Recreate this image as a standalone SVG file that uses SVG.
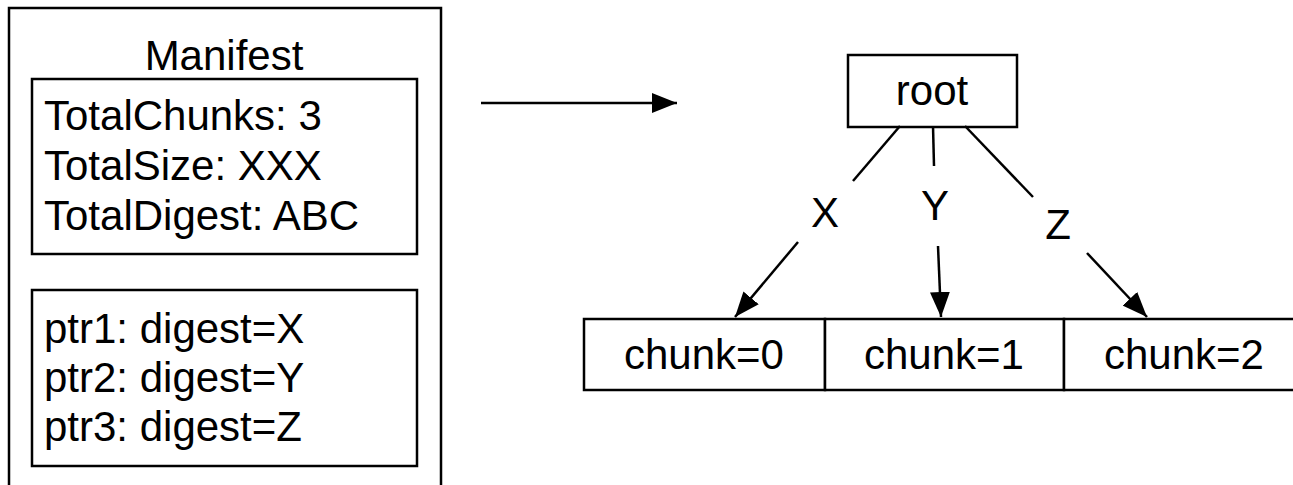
<svg xmlns="http://www.w3.org/2000/svg" width="1293" height="485" viewBox="0 0 1293 485">
<style>
.box{fill:#fff;stroke:#000;stroke-width:2.5}
.t{font-family:"Liberation Sans",Arial,Helvetica,sans-serif;font-size:42px;fill:#000}
.m{text-anchor:middle}
.c{stroke:#000;stroke-width:2.5;fill:none}
</style>
<defs>
<marker id="ah" markerUnits="userSpaceOnUse" markerWidth="26" markerHeight="20" refX="25" refY="10" orient="auto">
<path d="M0,0 L25,10 L0,20 z" fill="#000"/>
</marker>
</defs>
<rect width="1293" height="485" fill="#fff"/>
<g id="manifest">
<rect class="box" x="9" y="8" width="432" height="500"/>
<text class="t m" x="224" y="70">Manifest</text>
</g>
<g id="totals">
<rect class="box" x="32" y="79" width="385" height="175"/>
<text class="t" x="44" y="130">TotalChunks: 3</text>
<text class="t" x="44" y="180">TotalSize: XXX</text>
<text class="t" x="44" y="230">TotalDigest: ABC</text>
</g>
<g id="pointers">
<rect class="box" x="32" y="290" width="385" height="176"/>
<text class="t" x="44" y="343">ptr1: digest=X</text>
<text class="t" x="44" y="392">ptr2: digest=Y</text>
<text class="t" x="44" y="441">ptr3: digest=Z</text>
</g>
<g id="root">
<rect class="box" x="848" y="55" width="169" height="72"/>
<text class="t m" x="932" y="105">root</text>
</g>
<g id="chunk0">
<rect class="box" x="584" y="319" width="241" height="71"/>
<text class="t m" x="704" y="369">chunk=0</text>
</g>
<g id="chunk1">
<rect class="box" x="825" y="319" width="239" height="71"/>
<text class="t m" x="944" y="369">chunk=1</text>
</g>
<g id="chunk2">
<rect class="box" x="1064" y="319" width="240" height="71"/>
<text class="t m" x="1184" y="369">chunk=2</text>
</g>
<g id="connectors">
<line class="c" x1="481" y1="103" x2="677" y2="103" marker-end="url(#ah)"/>
<line class="c" x1="900" y1="126" x2="853" y2="181"/>
<line class="c" x1="798" y1="242" x2="735" y2="317" marker-end="url(#ah)"/>
<text class="t m" x="825" y="227">X</text>
<line class="c" x1="933" y1="126" x2="934" y2="166"/>
<line class="c" x1="938" y1="246" x2="941" y2="317" marker-end="url(#ah)"/>
<text class="t m" x="935" y="220">Y</text>
<line class="c" x1="965" y1="126" x2="1033" y2="197"/>
<line class="c" x1="1087" y1="253" x2="1147" y2="317" marker-end="url(#ah)"/>
<text class="t m" x="1058" y="239">Z</text>
</g>
</svg>
